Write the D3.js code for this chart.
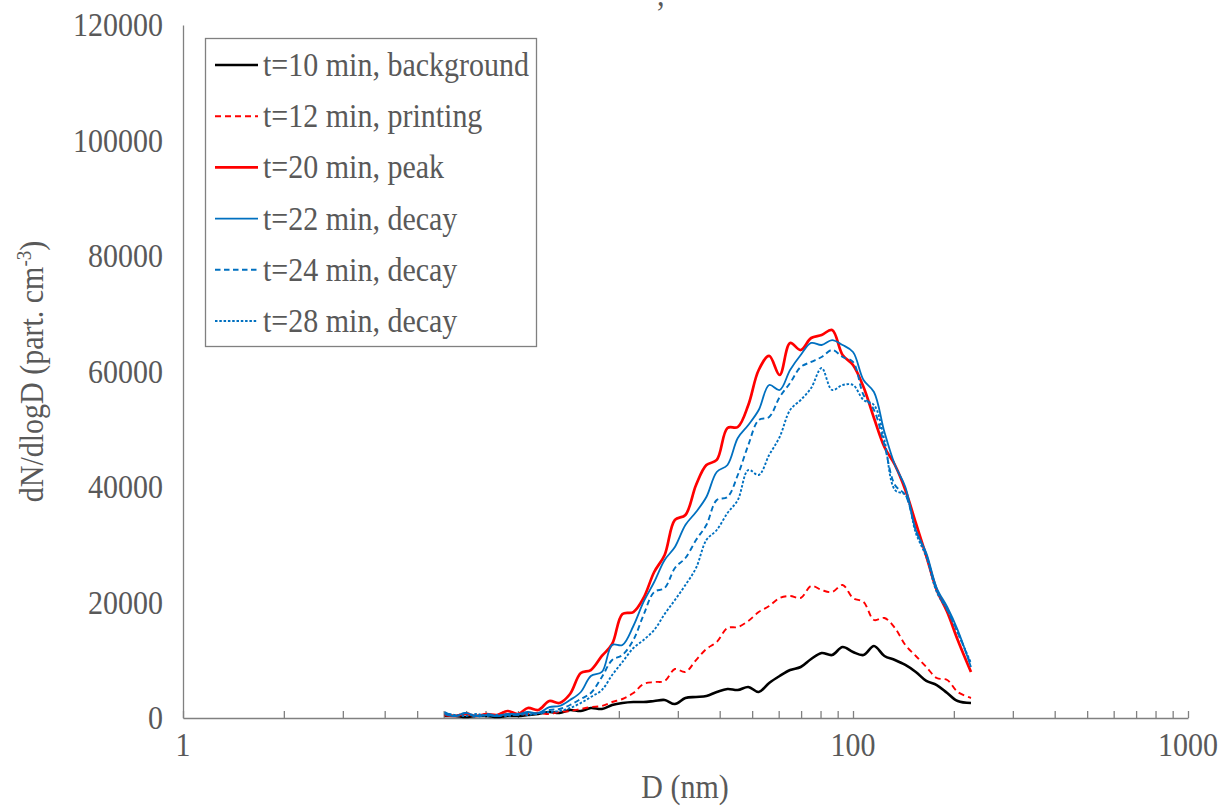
<!DOCTYPE html>
<html>
<head>
<meta charset="utf-8">
<script src="https://cdn.jsdelivr.net/npm/d3@7"></script>
<style>
  body { margin: 0; background: #fff; }
  text { font-family: "Liberation Serif", "Times New Roman", serif; fill: #595959; }
</style>
</head>
<body>
<svg id="chart" width="1221" height="806"></svg>
<script>
// particle diameters (nm), SMPS channels
const diameters = [6.04, 6.49, 6.98, 7.50, 8.06, 8.66, 9.31, 10.0, 10.7, 11.5, 12.4, 13.3, 14.3, 15.4, 16.5,
  17.8, 19.1, 20.5, 22.1, 23.7, 25.5, 27.4, 29.4, 31.6, 34.0, 36.5, 39.2, 42.2, 45.3, 48.7, 52.3, 56.2,
  60.4, 64.9, 69.8, 75.0, 80.6, 86.6, 93.1, 100.0, 107.5, 115.5, 124.1, 133.4, 143.3, 154.0, 165.5,
  177.8, 191.1, 205.4, 225.0];

const t10 = [350, 350, 170, 350, 350, 170, 350, 350, 520, 700, 1040, 870, 1390, 1210, 1730,
  1560, 2250, 2600, 2770, 2770, 2940, 3120, 2420, 3460, 3640, 3810, 4500, 5020, 4850, 5370, 4500, 6060,
  7270, 8310, 8830, 10220, 11260, 10910, 12290, 11430, 10910, 12470, 10740, 10040, 9180, 7970, 6410,
  5710, 4330, 2940, 2600];
const t12 = [690, 350, 870, 350, 690, 350, 690, 520, 690, 870, 690, 1040, 1210, 1560, 1900,
  2080, 2770, 3290, 4330, 5890, 6230, 6410, 8480, 7970, 10040, 11950, 13160, 15580, 15760, 16800, 18350, 19390,
  20780, 21130, 20780, 22860, 22160, 21820, 23030, 20780, 20090, 16970, 17320, 15580, 12640, 10740, 8830,
  6930, 6580, 4500, 3460];
const t20 = [520, 350, 690, 350, 690, 520, 1210, 690, 1730, 1390, 2940, 2600, 4160, 7790, 8310,
  10740, 12810, 18010, 18350, 20780, 25280, 28230, 34290, 35150, 40350, 43810, 44680, 50220, 50390, 54200, 60260, 62690,
  59390, 64940, 63720, 65800, 66320, 67190, 62860, 61130, 57310, 51950, 46930, 43810, 39480, 33770, 28050,
  22160, 18350, 13510, 7970];
const t22 = [690, 350, 870, 350, 520, 350, 690, 690, 1040, 870, 1900, 2080, 3120, 4500, 7270,
  7970, 12640, 12640, 15930, 20090, 23550, 27360, 29610, 33420, 35670, 38270, 42600, 43810, 48490, 50740, 53330, 57660,
  56800, 60260, 62860, 64940, 64590, 65450, 64590, 63380, 58530, 56450, 49520, 43810, 40000, 32550, 28570,
  22510, 19220, 15240, 8830];
const t24 = [1040, 350, 870, 170, 690, 350, 520, 520, 870, 690, 1390, 1560, 2250, 3290, 4330,
  7100, 10040, 10910, 13510, 17840, 21820, 22510, 25970, 27700, 30820, 33420, 37750, 38270, 42080, 47280, 51600, 52120,
  55580, 58010, 60780, 61650, 62510, 63720, 62510, 61650, 55930, 53330, 47270, 40350, 38620, 32550, 28230,
  22160, 18700, 14890, 9180];
const t28 = [870, 520, 350, 690, 350, 520, 350, 690, 520, 870, 1040, 1210, 1730, 2600, 3640,
  4850, 7450, 9700, 12120, 13510, 15240, 18010, 20430, 23030, 25970, 30820, 32550, 35500, 37750, 42940, 42080, 45540,
  48660, 53330, 55070, 57140, 60610, 56800, 57660, 57660, 55070, 54200, 48140, 39480, 38620, 32030, 27880,
  21820, 18700, 14720, 9520];

const seriesNames = ["t=10 min, background", "t=12 min, printing", "t=20 min, peak",
  "t=22 min, decay", "t=24 min, decay", "t=28 min, decay"];
const seriesValues = [t10, t12, t20, t22, t24, t28];
const yTicks = [0, 20000, 40000, 60000, 80000, 100000, 120000];
const xTicks = [1, 10, 100, 1000];

const styles = [
  { color: "#000000", width: 2.6, dash: null },
  { color: "#ff0000", width: 1.9, dash: "6,4" },
  { color: "#ff0000", width: 2.7, dash: null },
  { color: "#0070c0", width: 1.8, dash: null },
  { color: "#0070c0", width: 1.9, dash: "5.5,3.5" },
  { color: "#0070c0", width: 1.9, dash: "2.5,1.8" }
];

const svg = d3.select("#chart");
const margin = { left: 183, right: 33, top: 25, bottom: 88 };
const W = 1221, H = 806;
const stretch = 1.12; // text in the source looks a bit taller than wide

const x = d3.scaleLog().domain([1, 1000]).range([margin.left, W - margin.right]);
const y = d3.scaleLinear().domain([0, 120000]).range([H - margin.bottom, margin.top]);

// place a text with slight vertical stretch
function label(parent, tx, ty, str, anchor) {
  return parent.append("text")
    .attr("transform", `translate(${tx},${ty}) scale(1,${stretch})`)
    .attr("text-anchor", anchor || "start")
    .style("font-size", "30px")
    .text(str);
}

// cut off title remnant
label(svg, 657, 6, ",");

// axes
const xAxis = d3.axisBottom(x).tickValues(d3.range(0, 3).flatMap(k => d3.range(1, 10).map(m => m * Math.pow(10, k))).concat([1000]))
  .tickSizeInner(-7).tickSizeOuter(0).tickFormat("");
const gx = svg.append("g").attr("transform", `translate(0,${y(0)})`).call(xAxis);
gx.select(".domain").attr("stroke", "#808080").attr("stroke-width", 1.3);
gx.selectAll(".tick line").attr("stroke", "#808080").attr("stroke-width", 1.3);

xTicks.forEach(d => label(svg, x(d), 756, d, "middle"));

const gy = svg.append("g").attr("transform", `translate(${margin.left},0)`)
  .call(d3.axisLeft(y).tickValues([]).tickSizeOuter(0));
gy.select(".domain").attr("stroke", "#808080").attr("stroke-width", 1.3);

yTicks.forEach(d => label(svg, 163, y(d) + 11, d, "end"));

// axis titles
label(svg, 685, 798, "D (nm)", "middle");

const yl = svg.append("text")
  .attr("transform", `translate(43,${y(60000)}) rotate(-90) scale(1,${stretch})`)
  .attr("text-anchor", "middle").style("font-size", "30px");
yl.append("tspan").text("dN/dlogD (part. cm");
yl.append("tspan").attr("dy", -11).style("font-size", "19px").text("-3");
yl.append("tspan").attr("dy", 11).text(")");

// curves
const line = d3.line()
  .x((d, i) => x(diameters[i]))
  .y(d => y(d))
  .curve(d3.curveCatmullRom.alpha(0.5));

svg.append("g").selectAll("path").data(seriesValues).join("path")
  .attr("d", d => line(d))
  .attr("fill", "none")
  .attr("stroke", (d, i) => styles[i].color)
  .attr("stroke-width", (d, i) => styles[i].width)
  .attr("stroke-dasharray", (d, i) => styles[i].dash)
  .attr("stroke-linejoin", "round");

// legend
const lg = svg.append("g");
lg.append("rect").attr("x", 205.5).attr("y", 38.5).attr("width", 331).attr("height", 308)
  .attr("fill", "#fff").attr("stroke", "#808080").attr("stroke-width", 1.3);
seriesNames.forEach((name, i) => {
  const cy = 65 + i * 51.2;
  lg.append("line").attr("x1", 215).attr("x2", 258).attr("y1", cy).attr("y2", cy)
    .attr("stroke", styles[i].color)
    .attr("stroke-width", styles[i].width)
    .attr("stroke-dasharray", styles[i].dash);
  label(lg, 263, cy + 11, name);
});
</script>
</body>
</html>
